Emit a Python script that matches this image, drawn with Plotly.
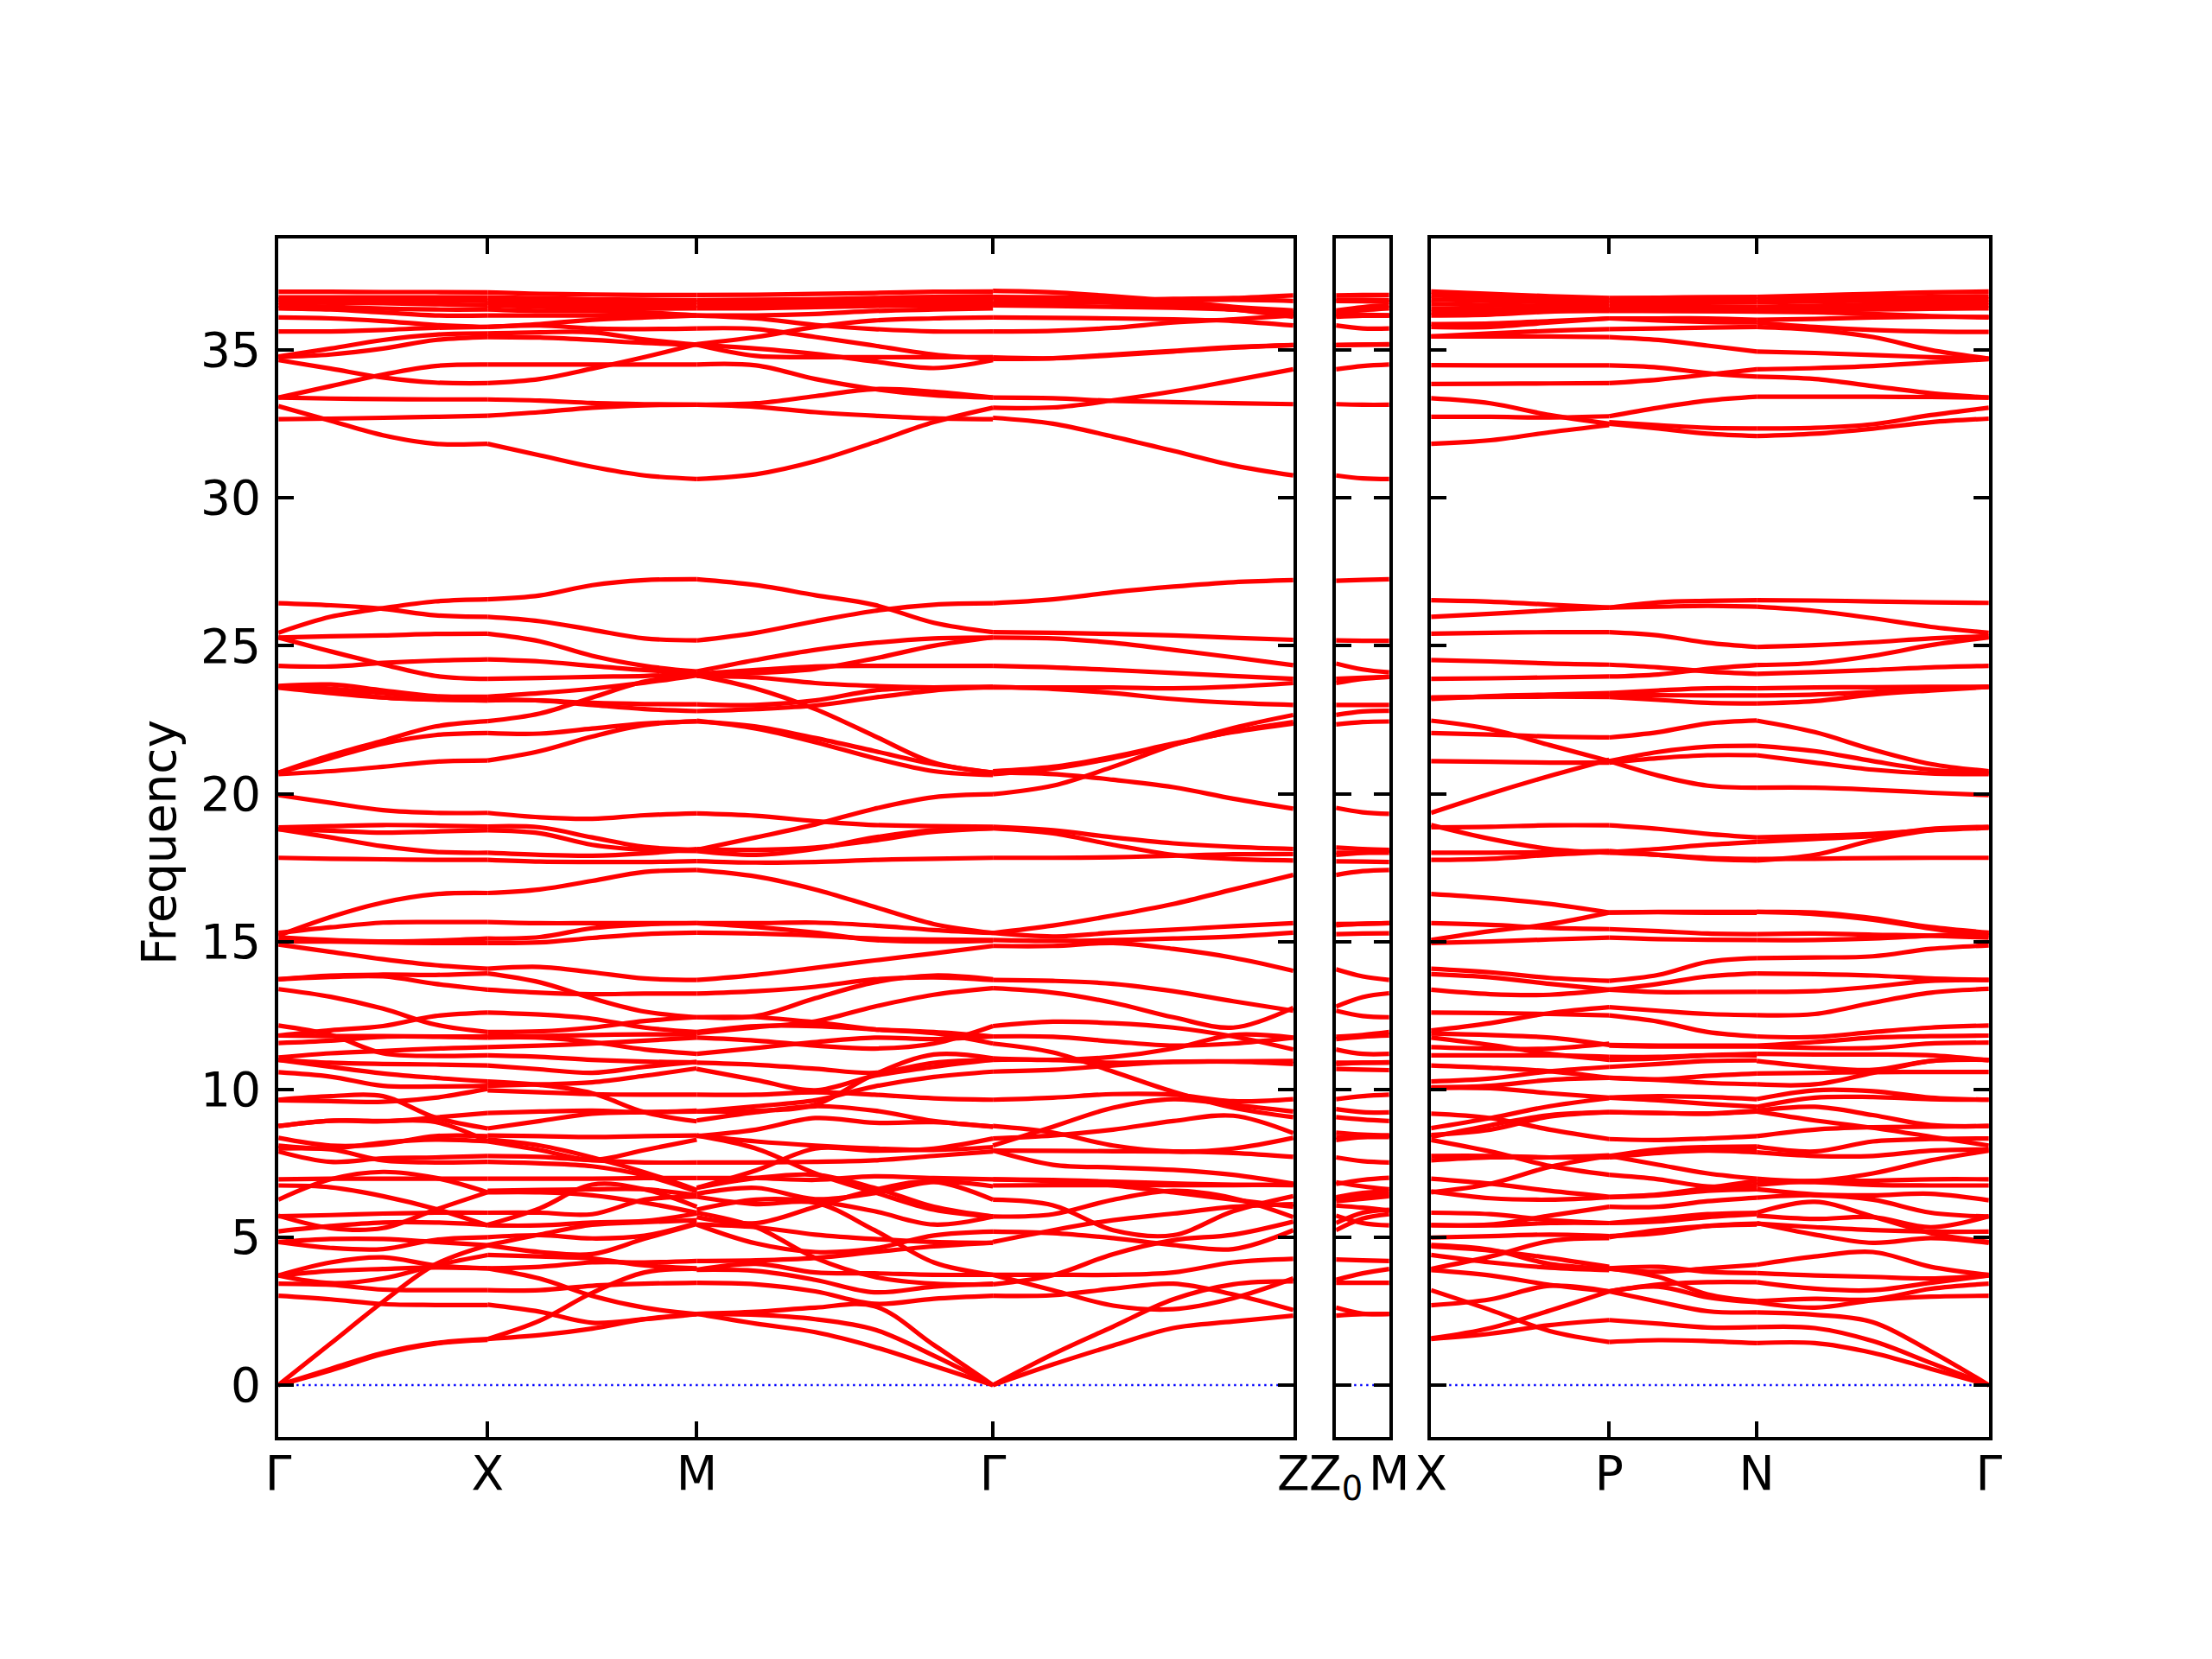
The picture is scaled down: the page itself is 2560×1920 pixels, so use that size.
import plotly.graph_objects as go

# Tick positions along the path (path length units) and labels
LEFT_TICKS = [0, 1, 2, 3.416, 4.852]
LEFT_LABELS = ["Γ", "X", "M", "Γ", "Z"]
MID_TICKS = [0, 0.272]
MID_LABELS = ["Z<sub>0</sub>", "M"]
RIGHT_TICKS = [0, 0.854, 1.562, 2.675]
RIGHT_LABELS = ["X", "P", "N", "Γ"]
Y_TICKS = [0, 5, 10, 15, 20, 25, 30, 35]
Y_RANGE = [-1.746, 38.766]
ZERO_LINE = [0, 0]
Y_TITLE = "Frequency"

# Band values; each row is one band on one path section,
# sampled at equal steps between the section's two end points.
GAMMA_X = [
    [0, 1.41, 2.82, 4.08, 4.73], [0, .55, 1.09, 1.42, 1.56], [0, .5, 1.05, 1.4, 1.53],
    [3.02, 2.9, 2.74, 2.71, 2.71], [3.43, 3.39, 3.23, 3.21, 3.21], [3.71, 3.45, 3.61, 4.05, 4.40],
    [3.7, 3.86, 3.93, 3.98, 3.95], [3.71, 4.15, 4.32, 4.05, 3.95], [4.84, 4.64, 4.6, 4.91, 5.0],
    [4.84, 4.94, 4.94, 4.84, 4.73], [5.2, 5.38, 5.5, 5.5, 5.42], [5.73, 5.31, 5.31, 5.93, 6.52],
    [5.71, 5.75, 5.8, 5.83, 5.83], [6.75, 6.69, 6.39, 5.96, 5.4], [6.27, 6.96, 7.21, 7.01, 6.52],
    [6.96, 6.98, 6.98, 6.98, 6.98], [7.9, 7.55, 7.67, 7.7, 7.75], [8.0, 7.97, 7.6, 7.53, 7.55],
    [8.36, 8.1, 8.15, 8.42, 8.42], [8.1, 8.0, 8.2, 8.3, 8.24], [8.76, 8.94, 8.93, 8.9, 8.25],
    [8.76, 8.94, 8.92, 9.05, 9.2], [9.65, 9.77, 9.77, 9.05, 8.68], [9.63, 9.6, 9.58, 9.72, 10.02],
    [10.58, 10.43, 10.12, 10.1, 10.12], [11.0, 10.76, 10.54, 10.39, 10.27], [11.0, 10.9, 10.86, 10.84, 10.81],
    [11.08, 11.22, 11.3, 11.38, 11.43], [12.16, 11.84, 11.22, 11.13, 11.15], [11.57, 11.65, 11.78, 11.78, 11.75],
    [11.82, 11.8, 11.8, 11.79, 11.79], [11.82, 12.0, 12.14, 12.48, 12.6], [13.39, 13.13, 12.73, 12.19, 11.94],
    [13.72, 13.85, 13.88, 13.87, 13.92], [13.72, 13.8, 13.82, 13.57, 13.37], [14.9, 14.65, 14.4, 14.2, 14.08],
    [25.44, 25.98, 26.27, 26.5, 26.57], [26.44, 26.37, 26.25, 26.03, 25.98], [25.28, 25.32, 25.35, 25.4, 25.41],
    [25.28, 24.81, 24.37, 23.98, 23.88], [24.32, 24.3, 24.42, 24.5, 24.54], [23.64, 23.69, 23.49, 23.3, 23.28],
    [23.62, 23.55, 23.4, 23.25, 23.2], [23.61, 23.49, 23.25, 23.18, 23.15], [23.58, 23.4, 23.25, 23.18, 23.15],
    [20.71, 21.3, 21.79, 22.27, 22.45], [20.71, 21.2, 21.69, 21.98, 22.05], [20.66, 20.76, 20.91, 21.08, 21.12],
    [19.95, 19.69, 19.44, 19.35, 19.35], [18.86, 18.9, 18.94, 18.92, 18.89], [18.8, 18.75, 18.68, 18.72, 18.76],
    [18.8, 18.52, 18.22, 18.03, 18.0], [17.83, 17.8, 17.78, 17.76, 17.76], [15.2, 15.83, 16.32, 16.6, 16.64],
    [15.29, 15.48, 15.64, 15.66, 15.66], [15.14, 15.05, 15.0, 15.03, 15.1], [15.0, 15.0, 14.97, 14.95, 14.95],
    [33.1, 32.61, 32.12, 31.83, 31.83], [32.66, 32.68, 32.71, 32.74, 32.78], [33.39, 33.36, 33.34, 33.33, 33.33],
    [33.39, 33.78, 34.17, 34.46, 34.51], [34.66, 34.37, 34.07, 33.9, 33.88], [34.76, 34.85, 35.05, 35.34, 35.44],
    [34.78, 35.05, 35.34, 35.52, 35.56], [35.63, 35.63, 35.68, 35.75, 35.78], [36.1, 36.07, 35.98, 35.85, 35.78],
    [36.41, 36.37, 36.27, 36.17, 36.17], [36.51, 36.46, 36.4, 36.37, 36.37], [36.61, 36.6, 36.58, 36.55, 36.51],
    [36.71, 36.7, 36.7, 36.68, 36.66], [36.78, 36.78, 36.78, 36.78, 36.78], [36.97, 36.97, 36.96, 36.96, 36.95],
]
X_M = [
    [1.56, 1.69, 1.91, 2.23, 2.41], [1.56, 2.18, 3.12, 3.81, 3.93], [2.72, 2.48, 2.11, 2.23, 2.4],
    [3.95, 3.6, 3.02, 2.62, 2.4], [3.21, 3.21, 3.36, 3.43, 3.46], [3.95, 4.0, 4.15, 4.15, 4.2],
    [4.4, 4.35, 4.28, 4.05, 3.95], [4.73, 5.09, 5.42, 5.51, 5.58], [5.0, 5.07, 4.96, 5.05, 5.48],
    [4.73, 4.5, 4.43, 4.95, 5.45], [5.4, 5.4, 5.5, 5.55, 5.8], [5.42, 5.98, 6.78, 6.62, 6.03],
    [5.83, 5.83, 5.78, 6.27, 6.37], [6.52, 6.52, 6.42, 6.17, 5.83], [6.57, 6.6, 6.62, 6.62, 6.42],
    [6.98, 6.98, 6.98, 7.0, 7.0], [7.55, 7.5, 7.4, 7.09, 6.55], [7.75, 7.72, 7.6, 7.53, 7.53],
    [8.24, 7.95, 7.62, 7.95, 8.3], [8.44, 8.42, 8.39, 8.42, 8.44], [8.3, 8.1, 7.7, 7.2, 6.6],
    [8.68, 8.93, 9.18, 9.23, 9.25], [9.2, 9.25, 9.28, 9.23, 9.28], [9.97, 9.9, 9.84, 9.82, 9.82],
    [10.27, 10.15, 9.87, 9.23, 8.92], [10.12, 10.17, 10.24, 10.46, 10.71], [10.81, 10.68, 10.56, 10.76, 10.93],
    [11.15, 11.1, 11.0, 10.94, 10.91], [11.43, 11.48, 11.55, 11.65, 11.75], [11.75, 11.75, 11.6, 11.35, 11.2],
    [11.79, 11.8, 11.84, 11.86, 11.86], [11.94, 11.96, 12.09, 12.31, 12.44], [12.6, 12.53, 12.39, 12.09, 11.94],
    [13.37, 13.27, 13.22, 13.24, 13.24], [13.92, 13.62, 13.08, 12.63, 12.44], [14.08, 14.14, 13.96, 13.75, 13.7],
    [26.57, 26.7, 27.05, 27.22, 27.25], [25.98, 25.83, 25.54, 25.25, 25.18], [25.41, 25.15, 24.66, 24.32, 24.13],
    [24.54, 24.47, 24.32, 24.18, 24.08], [23.88, 23.91, 23.95, 23.98, 24.05], [23.28, 23.4, 23.55, 23.75, 24.0],
    [23.2, 23.15, 23.07, 23.03, 23.02], [23.15, 23.15, 23.0, 22.86, 22.79], [22.45, 22.71, 23.25, 23.79, 24.03],
    [22.05, 22.03, 22.2, 22.37, 22.44], [21.12, 21.44, 21.93, 22.32, 22.45], [19.35, 19.2, 19.15, 19.27, 19.33],
    [18.89, 18.86, 18.52, 18.2, 18.1], [18.76, 18.66, 18.27, 18.1, 18.06], [18.0, 17.93, 17.9, 17.98, 18.13],
    [17.76, 17.7, 17.69, 17.69, 17.72], [16.64, 16.76, 17.05, 17.35, 17.42], [15.66, 15.62, 15.62, 15.62, 15.62],
    [15.1, 15.15, 15.45, 15.58, 15.62], [14.95, 14.97, 15.12, 15.25, 15.3],
    [31.83, 31.44, 31.05, 30.76, 30.64], [32.78, 32.9, 33.05, 33.13, 33.15], [33.33, 33.29, 33.21, 33.17, 33.15],
    [34.51, 34.51, 34.51, 34.51, 34.51], [33.88, 34.02, 34.37, 34.76, 35.2], [35.44, 35.42, 35.34, 35.24, 35.18],
    [35.56, 35.6, 35.6, 35.36, 35.18], [35.78, 35.83, 35.73, 35.71, 35.73], [35.78, 35.88, 36.02, 36.1, 36.17],
    [36.17, 36.17, 36.17, 36.17, 36.17], [36.37, 36.32, 36.32, 36.27, 36.17], [36.51, 36.46, 36.41, 36.4, 36.41],
    [36.6, 36.56, 36.53, 36.51, 36.51], [36.66, 36.65, 36.64, 36.63, 36.63], [36.78, 36.75, 36.72, 36.7, 36.69],
    [36.95, 36.9, 36.88, 36.86, 36.86],
]
M_GAMMA = [
    [2.41, 2.08, 1.79, 1.29, .65, 0], [2.41, 2.38, 2.23, 1.88, 1.0, 0], [2.41, 2.48, 2.62, 2.67, 1.36, 0],
    [3.46, 3.41, 3.17, 2.75, 2.92, 3.02], [3.9, 3.86, 3.56, 3.14, 3.33, 3.43], [3.9, 4.1, 3.81, 3.78, 3.73, 3.73],
    [4.2, 4.22, 4.3, 4.5, 4.69, 4.82], [5.43, 4.79, 4.5, 4.62, 5.06, 5.19], [5.43, 5.34, 5.09, 4.94, 4.84, 4.81],
    [5.83, 5.34, 4.3, 3.66, 3.43, 3.41], [6.37, 6.12, 6.17, 5.24, 4.15, 3.73], [5.68, 5.48, 6.03, 6.6, 6.88, 6.27],
    [5.93, 6.27, 6.22, 5.88, 5.43, 5.7], [6.47, 6.67, 6.29, 6.49, 6.87, 6.72], [6.67, 7.0, 7.11, 6.67, 6.03, 5.7],
    [7.0, 7.0, 6.94, 7.06, 7.0, 6.96], [6.67, 7.26, 8.0, 7.93, 8.0, 8.34], [7.53, 7.53, 7.55, 7.6, 7.75, 7.9],
    [8.44, 8.0, 7.16, 6.52, 5.93, 5.7], [8.44, 8.24, 8.1, 8.0, 7.95, 8.05], [8.42, 8.64, 9.03, 8.87, 8.89, 8.74],
    [8.95, 9.23, 9.43, 9.28, 8.93, 8.74], [9.25, 9.28, 9.48, 10.51, 11.18, 11.05], [9.82, 9.82, 9.9, 9.82, 9.7, 9.65],
    [9.25, 9.43, 9.63, 10.1, 10.42, 10.6], [10.69, 10.32, 9.97, 10.46, 10.76, 11.0], [10.9, 10.83, 10.7, 10.56, 10.9, 11.0],
    [11.2, 11.4, 11.6, 11.75, 11.7, 11.79], [11.75, 11.65, 11.48, 11.38, 11.55, 12.14], [11.94, 12.14, 12.14, 12.03, 11.94, 11.79],
    [12.44, 12.44, 12.27, 12.03, 11.9, 11.55], [12.44, 12.48, 13.08, 13.62, 13.85, 13.72], [11.9, 12.1, 12.3, 12.8, 13.2, 13.42],
    [13.24, 13.32, 13.47, 13.72, 13.79, 13.7], [13.7, 13.87, 14.11, 14.36, 14.6, 14.85],
    [27.25, 27.05, 26.71, 26.38, 25.78, 25.46], [25.18, 25.44, 25.83, 26.18, 26.39, 26.44], [24.13, 24.52, 24.86, 25.1, 25.25, 25.28],
    [24.03, 24.08, 24.22, 24.57, 25.0, 25.28], [24.05, 24.18, 24.3, 24.32, 24.32, 24.32], [23.98, 23.93, 23.74, 23.64, 23.59, 23.59],
    [23.02, 23.0, 23.15, 23.49, 23.59, 23.61], [22.79, 22.86, 22.98, 23.25, 23.49, 23.61], [24.0, 23.55, 22.86, 21.95, 21.05, 20.71],
    [22.44, 22.27, 21.88, 21.44, 21.0, 20.71], [22.47, 22.2, 21.74, 21.2, 20.76, 20.63], [19.33, 19.25, 19.07, 18.94, 18.9, 18.88],
    [18.1, 18.52, 18.96, 19.49, 19.88, 19.98], [18.13, 18.1, 18.18, 18.42, 18.71, 18.83], [18.06, 17.93, 18.13, 18.52, 18.76, 18.83],
    [17.72, 17.67, 17.69, 17.76, 17.8, 17.83], [17.42, 17.2, 16.76, 16.17, 15.59, 15.29], [15.62, 15.62, 15.64, 15.54, 15.39, 15.29],
    [15.62, 15.49, 15.3, 15.05, 15.0, 15.03], [15.3, 15.27, 15.2, 15.1, 15.07, 15.05],
    [30.64, 30.8, 31.24, 31.88, 32.56, 33.05], [33.15, 33.08, 32.9, 32.78, 32.69, 32.66], [33.15, 33.2, 33.44, 33.68, 33.59, 33.39],
    [34.51, 34.48, 34.02, 33.68, 33.47, 33.39], [35.2, 35.44, 35.78, 36.0, 36.07, 36.1], [35.18, 34.8, 34.76, 34.76, 34.76, 34.76],
    [35.18, 35.05, 34.87, 34.61, 34.39, 34.66], [35.73, 35.71, 35.44, 35.15, 34.85, 34.7], [36.17, 36.07, 35.85, 35.71, 35.63, 35.63],
    [36.17, 36.17, 36.22, 36.32, 36.37, 36.41], [36.41, 36.41, 36.45, 36.49, 36.51, 36.51], [36.51, 36.53, 36.55, 36.57, 36.6, 36.61],
    [36.63, 36.64, 36.66, 36.7, 36.72, 36.73], [36.69, 36.7, 36.72, 36.76, 36.8, 36.82], [36.86, 36.87, 36.9, 36.93, 36.97, 36.98],
]
GAMMA_Z = [
    [0, .7, 1.34, 1.93, 2.15, 2.35], [0, 1.05, 1.98, 2.9, 3.41, 3.51], [3.02, 3.04, 3.26, 3.43, 3.07, 2.54],
    [3.41, 3.72, 4.43, 4.9, 5.09, 5.53], [6.27, 6.08, 5.24, 5.07, 5.88, 6.39], [5.19, 5.14, 4.97, 4.74, 4.6, 5.24],
    [4.84, 5.24, 5.58, 5.8, 6.03, 6.12], [5.7, 5.78, 6.27, 6.57, 6.32, 5.68], [3.73, 3.73, 3.73, 3.81, 4.15, 4.27],
    [3.73, 3.21, 2.69, 2.57, 2.94, 3.61], [6.75, 6.76, 6.76, 6.76, 6.76, 6.78], [6.96, 6.9, 6.75, 6.52, 6.27, 6.03],
    [6.96, 6.94, 6.88, 6.82, 6.78, 6.76], [7.93, 7.45, 7.36, 7.28, 7.11, 6.81], [7.93, 7.92, 7.91, 7.9, 7.85, 7.72],
    [8.1, 8.74, 9.38, 9.67, 9.48, 9.25], [8.34, 8.44, 8.64, 8.93, 9.11, 8.52], [8.76, 8.54, 8.1, 7.9, 8.0, 8.36],
    [9.65, 9.72, 9.84, 9.82, 9.6, 9.67], [11.55, 11.25, 10.6, 9.92, 9.38, 9.06], [10.6, 10.66, 10.81, 10.93, 10.94, 10.86],
    [11.0, 11.0, 10.9, 10.93, 10.95, 10.96], [11.05, 11.0, 11.1, 11.38, 11.84, 11.75], [11.79, 11.78, 11.62, 11.48, 11.55, 11.75],
    [12.14, 12.29, 12.24, 12.09, 11.79, 11.35], [13.42, 13.27, 12.93, 12.44, 12.09, 12.76], [13.7, 13.67, 13.57, 13.32, 12.98, 12.66],
    [14.85, 14.85, 14.95, 14.75, 14.45, 14.01],
    [26.44, 26.57, 26.81, 27.0, 27.15, 27.22], [25.46, 25.44, 25.4, 25.35, 25.27, 25.2], [25.28, 25.25, 25.1, 24.86, 24.61, 24.34],
    [24.32, 24.27, 24.18, 24.08, 23.98, 23.88], [23.59, 23.59, 23.59, 23.56, 23.62, 23.74], [23.61, 23.54, 23.4, 23.2, 23.07, 23.0],
    [20.76, 20.91, 21.25, 21.69, 22.08, 22.37], [20.66, 20.85, 21.2, 21.66, 22.1, 22.42], [19.98, 20.27, 20.91, 21.64, 22.22, 22.66],
    [20.71, 20.66, 20.47, 20.22, 19.83, 19.49], [18.88, 18.76, 18.52, 18.32, 18.2, 18.13], [18.83, 18.66, 18.27, 17.93, 17.79, 17.74],
    [17.83, 17.83, 17.85, 17.9, 17.95, 17.96], [15.29, 15.54, 15.88, 16.27, 16.76, 17.25], [15.29, 15.17, 15.3, 15.4, 15.52, 15.62],
    [15.05, 15.02, 15.05, 15.1, 15.17, 15.3],
    [32.71, 32.51, 32.07, 31.59, 31.1, 30.76], [33.39, 33.37, 33.28, 33.24, 33.2, 33.17], [33.05, 33.06, 33.3, 33.6, 33.97, 34.35],
    [34.7, 34.72, 34.85, 34.97, 35.1, 35.17], [34.75, 34.72, 34.82, 34.95, 35.08, 35.17], [35.63, 35.65, 35.75, 35.93, 36.04, 36.17],
    [36.1, 36.09, 36.07, 36.04, 35.98, 35.83], [36.51, 36.49, 36.46, 36.43, 36.37, 36.27], [36.66, 36.63, 36.6, 36.5, 36.37, 36.12],
    [36.8, 36.78, 36.76, 36.56, 36.37, 36.22], [37.0, 36.95, 36.82, 36.66, 36.46, 36.34], [36.78, 36.73, 36.7, 36.73, 36.76, 36.85],
    [36.56, 36.61, 36.63, 36.68, 36.7, 36.66],
]
Z0_M = [
    [2.62, 2.42, 2.41], [2.35, 2.4, 2.41], [3.46, 3.46, 3.46], [3.56, 3.78, 3.93], [4.25, 4.22, 4.2],
    [5.24, 5.63, 5.78], [5.48, 5.83, 5.93], [5.73, 5.48, 5.4], [6.07, 6.0, 5.9], [6.22, 6.3, 6.39],
    [6.3, 6.42, 6.45], [6.35, 6.5, 6.55], [6.86, 6.72, 6.62], [6.8, 6.94, 7.01], [7.7, 7.57, 7.53],
    [8.39, 8.39, 8.39], [8.54, 8.47, 8.44], [8.29, 8.39, 8.44], [9.06, 8.98, 8.93], [9.33, 9.23, 9.22],
    [9.67, 9.77, 9.82], [10.69, 10.67, 10.65], [10.9, 10.9, 10.9], [10.86, 10.9, 10.92], [11.35, 11.2, 11.2],
    [11.7, 11.78, 11.82], [11.78, 11.84, 11.94], [12.66, 12.48, 12.44], [12.8, 13.12, 13.25], [14.06, 13.82, 13.7],
    [15.25, 15.27, 15.28], [15.59, 15.6, 15.62], [15.55, 15.6, 15.62], [17.25, 17.38, 17.42], [17.71, 17.7, 17.69],
    [18.18, 18.13, 18.1], [18.0, 18.0, 18.0], [17.93, 18.0, 18.07], [19.52, 19.37, 19.32], [22.34, 22.42, 22.44],
    [22.66, 22.78, 22.8], [23.0, 23.0, 23.0], [23.74, 23.88, 23.95], [23.88, 23.92, 23.95], [24.4, 24.2, 24.1],
    [25.18, 25.17, 25.17], [27.2, 27.23, 27.25],
    [30.76, 30.66, 30.64], [33.17, 33.15, 33.15], [34.35, 34.46, 34.51], [35.17, 35.18, 35.18], [35.17, 35.18, 35.2],
    [35.83, 35.73, 35.73], [36.12, 36.16, 36.17], [36.17, 36.17, 36.17], [36.22, 36.2, 36.17], [36.27, 36.35, 36.41],
    [36.34, 36.45, 36.51], [36.66, 36.65, 36.63], [36.85, 36.86, 36.86], [36.7, 36.7, 36.69],
]
X_P = [
    [1.56, 1.74, 2.03, 2.2], [1.58, 1.93, 2.52, 3.17], [3.21, 2.54, 1.83, 1.46], [2.7, 2.9, 3.36, 3.17],
    [3.89, 3.71, 3.39, 3.17], [4.4, 4.15, 3.97, 3.89], [4.74, 4.58, 4.1, 3.95], [4.69, 4.55, 4.3, 4.0],
    [3.93, 4.35, 4.87, 4.97], [4.99, 5.04, 5.09, 5.04], [5.41, 5.4, 5.48, 5.48], [5.83, 5.78, 5.58, 5.48],
    [5.41, 5.43, 5.73, 6.03], [6.55, 6.32, 6.27, 6.35], [6.98, 6.81, 6.57, 6.37], [6.52, 6.81, 7.38, 7.75],
    [8.29, 7.9, 7.41, 7.11], [7.75, 7.75, 7.7, 7.7], [7.6, 7.7, 7.7, 7.77], [9.18, 9.03, 8.64, 8.32],
    [8.69, 9.03, 9.43, 9.7], [8.39, 8.79, 9.13, 9.23], [8.46, 8.64, 9.08, 9.23], [10.05, 10.04, 9.87, 9.72],
    [10.07, 10.12, 10.32, 10.39], [10.27, 10.37, 10.61, 10.76], [10.81, 10.73, 10.61, 10.39], [11.15, 11.15, 11.15, 11.1],
    [11.43, 11.38, 11.38, 11.55], [11.75, 11.5, 11.2, 11.0], [11.89, 11.84, 11.75, 11.5], [11.99, 12.24, 12.58, 12.78],
    [12.6, 12.58, 12.55, 12.5], [13.37, 13.22, 13.2, 13.37], [13.9, 13.79, 13.57, 13.37], [14.08, 13.96, 13.77, 13.67],
    [19.35, 20.0, 20.6, 21.15], [22.47, 22.18, 21.64, 21.1], [22.05, 22.0, 21.93, 21.9], [21.1, 21.08, 21.05, 21.05],
    [18.86, 18.88, 18.93, 18.93], [18.94, 18.47, 18.13, 18.0], [18.0, 18.0, 18.02, 18.06], [17.76, 17.8, 17.93, 18.03],
    [16.61, 16.47, 16.27, 15.98], [15.05, 15.35, 15.59, 15.98], [15.62, 15.56, 15.46, 15.42], [14.95, 15.0, 15.07, 15.13],
    [26.54, 26.49, 26.39, 26.29], [25.98, 26.08, 26.2, 26.29], [25.41, 25.44, 25.46, 25.46], [24.52, 24.47, 24.4, 24.36],
    [23.88, 23.9, 23.93, 23.96], [23.2, 23.3, 23.35, 23.4], [23.25, 23.28, 23.32, 23.35], [23.25, 23.27, 23.28, 23.27],
    [31.83, 31.95, 32.22, 32.46], [32.74, 32.74, 32.72, 32.76], [33.37, 33.2, 32.8, 32.51], [34.49, 34.48, 34.48, 34.48],
    [33.85, 33.86, 33.87, 33.88], [35.46, 35.46, 35.46, 35.44], [35.46, 35.56, 35.65, 35.71], [35.78, 35.78, 35.93, 36.07],
    [35.88, 35.9, 35.98, 36.07], [36.98, 36.9, 36.82, 36.76], [36.85, 36.78, 36.72, 36.68], [36.71, 36.66, 36.62, 36.58],
    [36.56, 36.52, 36.49, 36.46], [36.41, 36.39, 36.37, 36.37], [36.27, 36.3, 36.32, 36.32], [36.17, 36.2, 36.3, 36.35],
]
P_N = [
    [1.46, 1.52, 1.49, 1.42], [2.2, 2.08, 1.95, 1.96], [3.17, 2.82, 2.5, 2.46], [3.17, 3.4, 3.48, 3.48],
    [3.17, 3.33, 2.97, 2.8], [3.95, 3.66, 3.07, 2.84], [3.93, 3.83, 3.95, 4.07], [3.95, 4.0, 3.83, 3.79],
    [5.0, 5.24, 5.38, 5.43], [5.04, 5.14, 5.38, 5.46], [5.48, 5.53, 5.68, 5.78], [5.48, 5.63, 5.78, 5.83],
    [6.03, 6.03, 6.22, 6.34], [6.35, 6.42, 6.57, 6.62], [6.37, 6.45, 6.67, 6.91], [7.11, 6.96, 6.72, 6.77],
    [7.75, 7.45, 7.16, 6.98], [7.75, 7.97, 8.05, 8.07], [7.7, 7.85, 7.93, 7.87], [7.7, 7.9, 7.97, 7.95],
    [8.32, 8.29, 8.34, 8.42], [9.23, 9.2, 9.18, 9.25], [9.23, 9.2, 9.18, 9.28], [9.72, 9.77, 9.74, 9.67],
    [9.72, 9.63, 9.51, 9.41], [10.39, 10.32, 10.22, 10.17], [10.39, 10.34, 10.46, 10.54], [10.76, 10.86, 10.96, 10.98],
    [11.0, 11.05, 11.15, 11.2], [11.1, 11.1, 11.15, 11.15], [11.48, 11.45, 11.45, 11.45], [11.5, 11.48, 11.48, 11.48],
    [12.5, 12.29, 11.94, 11.79], [12.78, 12.66, 12.55, 12.51], [13.37, 13.29, 13.29, 13.3], [13.37, 13.57, 13.82, 13.92],
    [13.67, 13.87, 14.31, 14.44],
    [26.29, 26.47, 26.52, 26.54], [26.29, 26.32, 26.35, 26.32], [25.46, 25.35, 25.1, 24.96], [24.36, 24.27, 24.13, 24.05],
    [23.96, 24.03, 24.22, 24.35], [23.4, 23.49, 23.56, 23.56], [23.35, 23.33, 23.32, 23.32], [23.27, 23.17, 23.07, 23.05],
    [21.9, 22.08, 22.37, 22.47], [21.1, 21.41, 21.59, 21.62], [21.05, 21.2, 21.3, 21.3], [21.1, 20.61, 20.27, 20.2],
    [18.93, 18.81, 18.64, 18.52], [18.03, 18.13, 18.27, 18.37], [18.0, 17.93, 17.83, 17.79], [18.06, 17.93, 17.79, 17.74],
    [15.98, 16.0, 16.0, 16.0], [15.98, 15.99, 15.97, 15.97], [15.42, 15.35, 15.27, 15.25], [15.13, 15.08, 15.06, 15.05],
    [32.76, 33.05, 33.29, 33.42], [32.56, 32.46, 32.37, 32.35], [32.51, 32.35, 32.17, 32.09], [34.48, 34.41, 34.22, 34.1],
    [33.88, 34.0, 34.17, 34.35], [35.44, 35.34, 35.15, 34.95], [35.71, 35.73, 35.76, 35.78], [36.07, 36.07, 36.07, 36.02],
    [36.07, 36.0, 35.95, 35.93], [36.76, 36.77, 36.79, 36.8], [36.68, 36.69, 36.7, 36.71], [36.58, 36.59, 36.6, 36.61],
    [36.46, 36.46, 36.46, 36.46], [36.37, 36.37, 36.37, 36.37], [36.32, 36.32, 36.32, 36.32], [36.35, 36.33, 36.31, 36.3],
]
N_GAMMA = [
    [1.42, 1.42, 1.09, .55, 0], [1.96, 1.93, 1.49, .75, 0], [2.46, 2.38, 2.13, 1.14, 0], [2.8, 2.62, 2.87, 2.99, 3.02],
    [2.84, 2.92, 2.9, 3.26, 3.43], [3.48, 3.26, 3.21, 3.46, 3.71], [3.79, 3.71, 3.66, 3.61, 3.71], [4.07, 4.35, 4.5, 4.0, 3.73],
    [5.48, 5.09, 4.81, 4.97, 4.81], [5.46, 5.34, 5.24, 5.19, 5.19], [5.73, 5.62, 5.68, 5.34, 5.71], [5.83, 6.2, 5.7, 5.14, 4.84],
    [6.34, 6.42, 6.27, 5.83, 5.7], [6.62, 6.45, 6.42, 6.47, 6.25], [6.86, 6.86, 6.77, 6.75, 6.75], [6.77, 6.91, 6.91, 6.96, 6.96],
    [6.98, 6.91, 7.16, 7.6, 7.93], [8.07, 7.9, 8.24, 8.32, 8.34], [7.87, 7.75, 7.75, 7.93, 7.97], [9.25, 8.95, 8.7, 8.4, 8.1],
    [9.28, 9.41, 9.13, 8.79, 8.76], [8.42, 8.64, 8.72, 8.74, 8.76], [9.67, 9.97, 9.94, 9.72, 9.65], [9.41, 9.72, 9.74, 9.67, 9.65],
    [10.17, 10.17, 10.56, 10.96, 11.0], [10.54, 10.56, 10.58, 10.59, 10.59], [10.96, 10.76, 10.66, 10.96, 11.0], [11.2, 11.18, 11.18, 11.15, 10.98],
    [11.45, 11.4, 11.4, 11.55, 11.58], [11.48, 11.6, 11.75, 11.8, 11.82], [11.79, 11.77, 11.94, 12.09, 12.16], [12.51, 12.55, 12.93, 13.27, 13.4],
    [13.3, 13.32, 13.47, 13.67, 13.7], [13.92, 13.9, 13.85, 13.75, 13.7], [14.44, 14.46, 14.5, 14.75, 14.87],
    [26.54, 26.53, 26.5, 26.47, 26.45], [26.32, 26.18, 25.93, 25.64, 25.44], [24.96, 25.02, 25.12, 25.25, 25.32], [24.05, 24.11, 24.18, 24.27, 24.32],
    [24.35, 24.42, 24.66, 25.02, 25.28], [23.56, 23.59, 23.6, 23.61, 23.61], [23.32, 23.35, 23.44, 23.54, 23.61], [23.05, 23.13, 23.35, 23.49, 23.61],
    [22.47, 22.08, 21.49, 21.0, 20.76], [21.62, 21.44, 21.1, 20.81, 20.71], [21.3, 21.05, 20.81, 20.68, 20.66], [20.2, 20.2, 20.13, 20.03, 19.95],
    [18.52, 18.57, 18.64, 18.76, 18.84], [18.37, 18.47, 18.57, 18.81, 18.88], [17.79, 17.8, 17.82, 17.83, 17.83], [17.74, 17.93, 18.42, 18.76, 18.86],
    [16.0, 15.98, 15.79, 15.49, 15.3], [16.0, 15.93, 15.74, 15.44, 15.2], [15.25, 15.27, 15.23, 15.2, 15.13], [15.05, 15.05, 15.1, 15.2, 15.29],
    [33.42, 33.42, 33.42, 33.41, 33.39], [32.35, 32.37, 32.49, 32.8, 33.05], [32.09, 32.17, 32.34, 32.56, 32.68], [34.1, 34.02, 33.78, 33.54, 33.39],
    [34.35, 34.39, 34.46, 34.58, 34.69], [34.95, 34.9, 34.83, 34.76, 34.71], [35.78, 35.68, 35.44, 35.0, 34.71], [36.02, 36.05, 36.1, 36.12, 36.12],
    [35.93, 35.78, 35.68, 35.63, 35.61], [36.8, 36.85, 36.9, 36.95, 36.98], [36.71, 36.74, 36.77, 36.8, 36.82], [36.61, 36.64, 36.67, 36.7, 36.71],
    [36.46, 36.5, 36.54, 36.58, 36.61], [36.37, 36.4, 36.44, 36.48, 36.51], [36.32, 36.34, 36.37, 36.39, 36.41], [36.3, 36.28, 36.22, 36.15, 36.1],
]

RED = "#ff0000"
BLACK = "#000000"
FONT = "DejaVu Sans"
FONT_SIZE = 55
W, H = 2560, 1920
INSET = 2.2  # plotly draws axis lines just outside the plot area


def section(rows, start, end, xaxis, yaxis):
    """One Scatter holding every band of one path section, split by gaps."""
    xs, ys = [], []
    for row in rows:
        n = len(row) - 1
        for i, value in enumerate(row):
            xs.append(start + (end - start) * i / n)
            ys.append(value)
        xs.append(None)
        ys.append(None)
    return go.Scatter(x=xs, y=ys, mode="lines", xaxis=xaxis, yaxis=yaxis,
                      line=dict(color=RED, width=5.2, shape="spline", smoothing=1.0),
                      connectgaps=False, showlegend=False, hoverinfo="skip")


def zero_line(ticks, xaxis, yaxis):
    return go.Scatter(x=[ticks[0], ticks[-1]], y=ZERO_LINE, mode="lines", xaxis=xaxis, yaxis=yaxis,
                      line=dict(color="#0000ff", width=2.4, dash="2.4px,4.6px"),
                      showlegend=False, hoverinfo="skip")


fig = go.Figure()
fig.add_trace(zero_line(LEFT_TICKS, "x", "y"))
fig.add_trace(zero_line(MID_TICKS, "x2", "y2"))
fig.add_trace(zero_line(RIGHT_TICKS, "x3", "y3"))
for rows, a, b in [(GAMMA_X, LEFT_TICKS[0], LEFT_TICKS[1]), (X_M, LEFT_TICKS[1], LEFT_TICKS[2]),
                   (M_GAMMA, LEFT_TICKS[2], LEFT_TICKS[3]), (GAMMA_Z, LEFT_TICKS[3], LEFT_TICKS[4])]:
    fig.add_trace(section(rows, a, b, "x", "y"))
fig.add_trace(section(Z0_M, MID_TICKS[0], MID_TICKS[1], "x2", "y2"))
for rows, a, b in [(X_P, RIGHT_TICKS[0], RIGHT_TICKS[1]), (P_N, RIGHT_TICKS[1], RIGHT_TICKS[2]),
                   (N_GAMMA, RIGHT_TICKS[2], RIGHT_TICKS[3])]:
    fig.add_trace(section(rows, a, b, "x3", "y3"))


def x_axis(ticks, labels, x0, x1, anchor):
    return dict(domain=[(x0 + INSET) / W, (x1 - INSET) / W], range=[ticks[0], ticks[-1]], anchor=anchor,
                tickmode="array", tickvals=ticks, ticktext=labels, tickangle=0, automargin=False,
                ticks="inside", ticklen=18, tickwidth=3.6, tickcolor=BLACK,
                showline=True, linecolor=BLACK, linewidth=4.4, mirror="ticks",
                showgrid=False, zeroline=False, ticklabelstandoff=-9,
                tickfont=dict(family=FONT, size=FONT_SIZE, color=BLACK))


def y_axis(anchor, labels):
    return dict(domain=[(H - 1665 + INSET) / H, (H - 274 - INSET) / H], range=Y_RANGE, anchor=anchor,
                tickmode="array", tickvals=Y_TICKS, showticklabels=labels, automargin=False,
                ticks="inside", ticklen=18, tickwidth=4, tickcolor=BLACK,
                showline=True, linecolor=BLACK, linewidth=4.4, mirror="ticks",
                showgrid=False, zeroline=False, ticklabelstandoff=5,
                tickfont=dict(family=FONT, size=FONT_SIZE, color=BLACK))


fig.update_layout(
    width=W, height=H, autosize=False,
    margin=dict(l=0, r=0, t=0, b=0, pad=0, autoexpand=False),
    paper_bgcolor="white", plot_bgcolor="white", showlegend=False,
    xaxis=x_axis(LEFT_TICKS, LEFT_LABELS, 320, 1499, "y"),
    xaxis2=x_axis(MID_TICKS, MID_LABELS, 1544, 1610, "y2"),
    xaxis3=x_axis(RIGHT_TICKS, RIGHT_LABELS, 1654, 2304, "y3"),
    yaxis=y_axis("x", True),
    yaxis2=y_axis("x2", False),
    yaxis3=y_axis("x3", False),
    annotations=[dict(text=Y_TITLE, xref="paper", yref="paper", x=184 / W, y=1 - 975 / H,
                      xanchor="center", yanchor="middle", textangle=-90, showarrow=False,
                      font=dict(family=FONT, size=FONT_SIZE, color=BLACK))],
)

fig.write_html("out.html", config=dict(displayModeBar=False),
               post_script="document.body.style.margin='0';")
